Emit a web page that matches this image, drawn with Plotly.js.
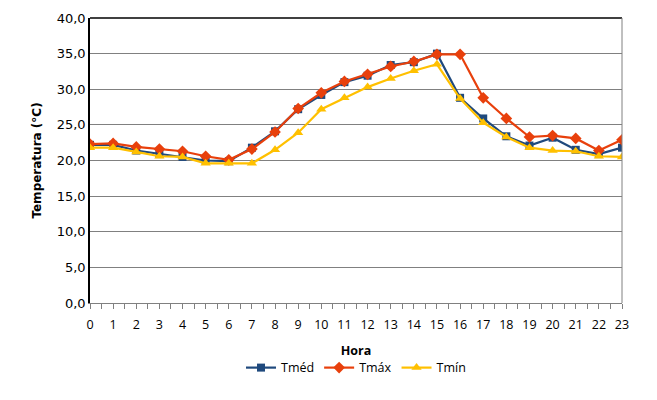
<!DOCTYPE html>
<html>
<head>
<meta charset="utf-8">
<script src="https://cdn.plot.ly/plotly-3.0.1.min.js"></script>
<style>
  body { margin: 0; background: #fff; }
  #chart { width: 657px; height: 400px; }
</style>
</head>
<body>
<div id="chart"></div>
<script>
// hourly temperatures
var horas = [0,1,2,3,4,5,6,7,8,9,10,11,12,13,14,15,16,17,18,19,20,21,22,23];
var tmed = [22.2,22.2,21.4,20.9,20.5,20.0,19.9,21.8,24.1,27.2,29.2,31.0,31.9,33.4,33.8,35.0,28.8,25.9,23.4,22.1,23.2,21.5,20.9,21.8];
var tmax = [22.3,22.4,21.9,21.6,21.3,20.6,20.1,21.6,24.0,27.3,29.5,31.1,32.1,33.2,33.9,34.9,34.9,28.8,25.9,23.3,23.5,23.1,21.4,22.9];
var tmin = [21.8,21.8,21.2,20.6,20.5,19.6,19.6,19.6,21.5,23.9,27.2,28.8,30.3,31.5,32.6,33.5,28.7,25.3,23.3,21.8,21.4,21.3,20.6,20.5];

function drawChart() {
	var trace1 = {
		x: horas, y: tmed, name: 'Tméd', type: 'scatter', mode: 'lines+markers',
		line: { color: '#1F497D', width: 2.2 },
		marker: { symbol: 'square', size: 8, color: '#1F497D' }
	};
	var trace2 = {
		x: horas, y: tmax, name: 'Tmáx', type: 'scatter', mode: 'lines+markers',
		line: { color: '#E8400C', width: 2.2 },
		marker: { symbol: 'diamond', size: 9, color: '#E8400C' }
	};
	var trace3 = {
		x: horas, y: tmin, name: 'Tmín', type: 'scatter', mode: 'lines+markers',
		line: { color: '#FFC000', width: 2.2 },
		marker: { symbol: 'triangle-up', size: 9, color: '#FFC000' }
	};

	var layout = {
		width: 657, height: 400,
		margin: { l: 90, r: 35, t: 18, b: 97 },
		paper_bgcolor: '#fff', plot_bgcolor: '#fff',
		separators: ',.',
		font: { family: 'DejaVu Sans, Verdana, sans-serif', size: 11, color: '#000' },
		showlegend: true,
		legend: {
			orientation: 'h', x: 0.5, xanchor: 'center', y: -0.228, yanchor: 'middle',
			itemwidth: 30, tracegroupgap: 0,
			font: { family: 'Open Sans, sans-serif', size: 12.5 }
		},
		xaxis: {
			range: [0, 23], tickmode: 'linear', tick0: 0, dtick: 1,
			showgrid: false, zeroline: false,
			showline: true, linecolor: '#808080', linewidth: 1, mirror: false,
			ticks: 'outside', ticklen: 5, tickcolor: '#808080',
			ticklabelstandoff: 5,
			minor: { dtick: 0.5, ticks: 'outside', ticklen: 5, tickcolor: '#808080' },
			tickfont: { family: 'Open Sans, sans-serif', size: 12.5 },
			title: { text: '<b>Hora</b>', font: { family: 'Open Sans, sans-serif', size: 12.5 }, standoff: 14 }
		},
		yaxis: {
			range: [0, 40], dtick: 5, tickformat: '.1f',
			showgrid: true, gridcolor: '#808080', gridwidth: 1, zeroline: false,
			showline: true, linecolor: '#000', linewidth: 1.5,
			ticks: '', ticklen: 0,
			tickfont: { size: 13 },
			title: { text: '<b>Temperatura (°C)</b>', font: { size: 12 }, standoff: 12 }
		},
		shapes: [
			{ type: 'line', xref: 'paper', yref: 'paper', x0: 0, x1: 1, y0: 1, y1: 1, line: { color: '#000', width: 1.5 } },
			{ type: 'line', xref: 'paper', yref: 'paper', x0: 1, x1: 1, y0: 0, y1: 1, line: { color: '#808080', width: 1 } }
		]
	};

	Plotly.newPlot('chart', [trace1, trace2, trace3], layout, { displayModeBar: false });
}

window.onload = drawChart;
</script>
</body>
</html>
